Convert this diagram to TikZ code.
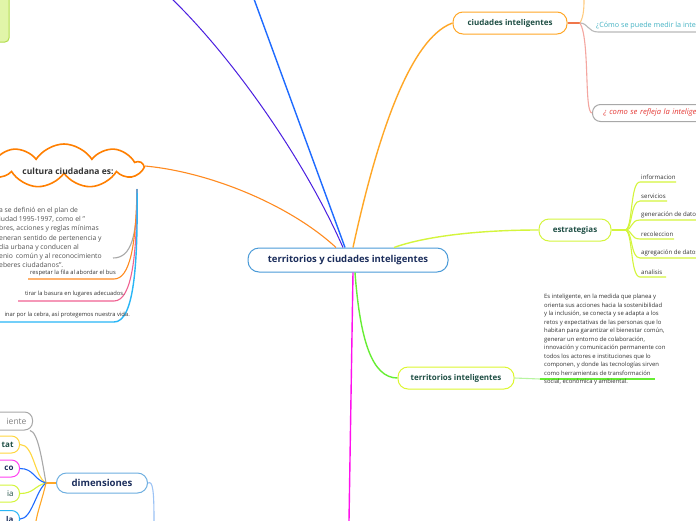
\documentclass[tikz,border=0pt]{standalone}
\usepackage{fontspec}
\setmainfont{Open Sans}
\usetikzlibrary{shapes.symbols}
\definecolor{cblue}{HTML}{4A9BD8}
\definecolor{navy}{HTML}{1C2E5C}
\definecolor{tealtx}{HTML}{1F4F45}
\definecolor{corange}{HTML}{FF8A1F}
\definecolor{ciorange}{HTML}{FFA726}
\definecolor{purp}{HTML}{4B1FE0}
\definecolor{blu}{HTML}{1E6BFF}
\definecolor{ygreen}{HTML}{D4F53C}
\definecolor{lgreen}{HTML}{66EE33}
\definecolor{mag}{HTML}{FF10EE}
\definecolor{cloudor}{HTML}{FF7F00}
\definecolor{pinkc}{HTML}{F06292}
\definecolor{skyb}{HTML}{29B6F6}
\definecolor{greyc}{HTML}{A8A8A8}
\definecolor{txtg}{HTML}{333333}
\definecolor{yel}{HTML}{FFD740}
\definecolor{qteal}{HTML}{45B3C4}
\definecolor{redt}{HTML}{E53935}
\definecolor{lorange}{HTML}{FFCC80}
\definecolor{lred}{HTML}{F4A6A0}
\definecolor{redor}{HTML}{F0764A}
\definecolor{boxg}{HTML}{E1F5A9}
\definecolor{boxgd}{HTML}{B2DD4C}
\definecolor{paleg}{HTML}{B8F5A0}
\definecolor{paleb}{HTML}{9CC3F5}
\tikzset{
  mainbox/.style={draw=cblue, line width=1pt, fill=white, rounded corners=11pt, minimum width=200pt, minimum height=24pt, font=\bfseries\fontsize{9.5}{11}\selectfont, text=navy},
  subbox/.style={line width=1pt, fill=white, rounded corners=10pt, minimum height=22pt, font=\bfseries\fontsize{8}{10}\selectfont, text=tealtx},
  leaf/.style={font=\fontsize{6.1}{7}\selectfont, text=txtg, inner sep=1pt},
  part/.style={anchor=east, line width=1pt, fill=white, rounded corners=8pt, minimum height=17pt, text width=70pt, align=right, inner xsep=6pt, font=\bfseries\fontsize{8}{9}\selectfont},
  br/.style={line width=1.4pt},
  sb/.style={line width=1.1pt}
}
\begin{document}
\begin{tikzpicture}[x=1pt,y=-1pt]
\clip (0,0) rectangle (696,520);
\fill[white] (0,0) rectangle (696,520);
% top-left green box
\draw[fill=boxg, draw=boxgd, line width=1pt, rounded corners=4pt] (-30,-10) rectangle (9,42);

% main node
\node[mainbox] (c) at (348,260) {territorios y ciudades inteligentes};
\node[subbox, draw=ciorange, minimum width=114pt] (ci) at (510,23) {ciudades inteligentes};
\node[subbox, draw=ygreen, minimum width=72pt] (es) at (575,230) {estrategias};
\node[subbox, draw=ygreen!80!yellow, minimum width=116pt] (ti) at (456,378) {territorios inteligentes};
\node[subbox, draw=cblue!80, minimum width=91pt, minimum height=20pt, font=\bfseries\fontsize{9.6}{10}\selectfont, text=navy] (dim) at (102,483) {dimensiones};
\node[cloud, cloud puffs=9, cloud puff arc=115, aspect=3.8, draw=cloudor, line width=1.6pt, fill=white, minimum width=156pt, minimum height=44pt, inner sep=0pt] (cu) at (64,166) {};
\node[font=\bfseries\fontsize{8.5}{10}\selectfont, text=txtg] (cut) at (68,171) {cultura ciudadana es:};

% coordinates
\coordinate (p1) at (172,-1);
\coordinate (b1) at (254,-1);
\coordinate (m1) at (349,521);

% main connectors
\draw[purp, line width=1pt] (p1) .. controls (225,50) and (300,150) .. ([xshift=-5pt]c.north);
\draw[blu, br] (b1) -- ([xshift=-3pt]c.north);
\draw[ciorange, br] ([xshift=5pt]c.north) .. controls (372,160) and (405,40) .. (ci.west);
\draw[corange, line width=1.1pt] (cu.east) .. controls (210,172) and (290,205) .. ([xshift=-12pt]c.north);
\draw[ygreen, br] ([xshift=46pt]c.north) .. controls (420,238) and (470,230) .. (es.west);
\draw[lgreen, br] ([xshift=7pt]c.south) .. controls (360,340) and (372,378) .. (ti.west);
\draw[mag, br] ([xshift=5pt]c.south) -- (m1);

% ciudades inteligentes branches
\coordinate (h1) at (580,23);
\coordinate (u1) at (584,-1);
\draw[redor, sb] (ci.east) -- (h1);
\draw[lorange, sb] (h1) .. controls (584,16) and (584,6) .. (u1);
\node[anchor=south west, inner sep=1pt, font=\fontsize{7.2}{8}\selectfont, text=qteal] (q1) at (595,30) {¿Cómo se puede medir la inte};
\coordinate (q1e) at (700,32);
\draw[greyc!80, sb] (h1) .. controls (588,23) and (588,32) .. (598,32) -- (q1e);
\node[anchor=west, draw=greyc, line width=1pt, rounded corners=8pt, minimum height=17pt, minimum width=130pt, inner xsep=11pt, font=\itshape\fontsize{7.6}{8}\selectfont, text=redt, align=left, text width=110pt] (q2) at (592,113) {¿ como se refleja la inteligen};
\draw[lred, sb] (h1) .. controls (590,40) and (584,113) .. (q2.west);

% estrategias branches
\coordinate (h2) at (625,230);
\draw[ygreen, sb] (es.east) -- (h2);
\foreach \y/\xe/\t/\n in {182/676/informacion/e1, 201/667/servicios/e2, 220/700/generación de datos/e3, 239/674/recoleccion/e4, 258/700/agregación de datos/e5, 277/666/analisis/e6}{
  \node[leaf, anchor=south west] (\n) at (640,\y-1) {\t};
  \coordinate (\n e) at (\xe,\y);
  \draw[ygreen, sb] (h2) .. controls (633,230) and (630,\y) .. (640,\y) -- (\n e);
}

% territorios inteligentes text
\coordinate (t1) at (540,379);
\coordinate (t2) at (655,379);
\draw[paleg, sb] (ti.east) -- (t1);
\draw[lgreen, sb] (t1) -- (t2);
\node[anchor=north west, inner sep=0pt, align=left, font=\fontsize{5.9}{8.5}\selectfont, text=txtg] (tp) at (544,294) {Es inteligente, en la medida que planea y\\orienta sus acciones hacia la sostenibilidad\\y la inclusión, se conecta y se adapta a los\\retos y expectativas de las personas que lo\\habitan para garantizar el bienestar común,\\generar un entorno de colaboración,\\innovación y comunicación permanente con\\todos los actores e instituciones que lo\\componen, y donde las tecnologías sirven\\como herramientas de transformación\\social, económica y ambiental.};

% cultura ciudadana branches
\coordinate (h3) at (137,189);
\coordinate (g1) at (113,258);
\coordinate (o1) at (28,279);
\coordinate (k1) at (18,301);
\coordinate (s1) at (-1,322);
\draw[greyc, sb] (h3) .. controls (137,235) and (132,258) .. (g1);
\draw[corange, sb] (h3) .. controls (136,245) and (130,279) .. (114,279) -- (o1);
\draw[pinkc, sb] (h3) .. controls (137,255) and (132,301) .. (114,301) -- (k1);
\draw[skyb, br] (h3) .. controls (138,265) and (134,322) .. (114,322) -- (s1);
\node[anchor=north west, inner sep=0pt, align=left, font=\fontsize{6.8}{9.2}\selectfont, text=txtg!85] (cp) at (-1,207) {a se definió en el plan de\\iudad 1995-1997, como el "\\bres, acciones y reglas mínimas\\eneran sentido de pertenencia y\\dia urbana y conducen al\\enio\, común y al reconocimiento\\eberes ciudadanos".};
\node[leaf, font=\fontsize{5.8}{7}\selectfont, anchor=south east] (l1) at (117,277) {respetar la fila al abordar el bus};
\node[leaf, font=\fontsize{5.8}{7}\selectfont, anchor=south east] (l2) at (126,298) {tirar la basura en lugares adecuados.};
\node[leaf, font=\fontsize{5.8}{7}\selectfont, anchor=south east] (l3) at (131,319) {inar por la cebra, así protegemos nuestra vida.};

% dimensiones branches
\coordinate (h4) at (46,483);
\coordinate (d1) at (154,521);
\coordinate (d2) at (36,521);
\draw[paleb, sb] (dim.east) .. controls (153,480) and (154,492) .. (d1);
\draw[ciorange, sb] (dim.west) -- (h4);
\node[part, draw=greyc, font=\fontsize{8.5}{10}\selectfont, text=gray, minimum height=18pt] (n0) at (33,421) {iente};
\node[part, draw=yel, text=tealtx] (n1) at (20,444.5) {tat};
\node[part, draw=mag!80, text=navy] (n2) at (20,468.5) {co};
\node[part, draw=ygreen, text=tealtx, font=\fontsize{8}{9}\selectfont] (n3) at (20,493.5) {ia};
\node[part, draw=skyb, text=navy] (n4) at (20,519) {la};
\draw[greyc, sb] (h4) .. controls (42,460) and (38,432) .. ([xshift=-3pt]n0.south east);
\draw[yel, sb] (h4) .. controls (34,476) and (34,444.5) .. (n1.east);
\draw[blu, sb] (h4) .. controls (34,480) and (34,468.5) .. (n2.east);
\draw[ygreen, sb] (h4) .. controls (34,486) and (34,493.5) .. (n3.east);
\draw[blu, sb] (h4) .. controls (36,490) and (32,519) .. (n4.east);
\draw[ciorange, sb] (h4) .. controls (42,500) and (38,510) .. (d2);
\end{tikzpicture}
\end{document}
